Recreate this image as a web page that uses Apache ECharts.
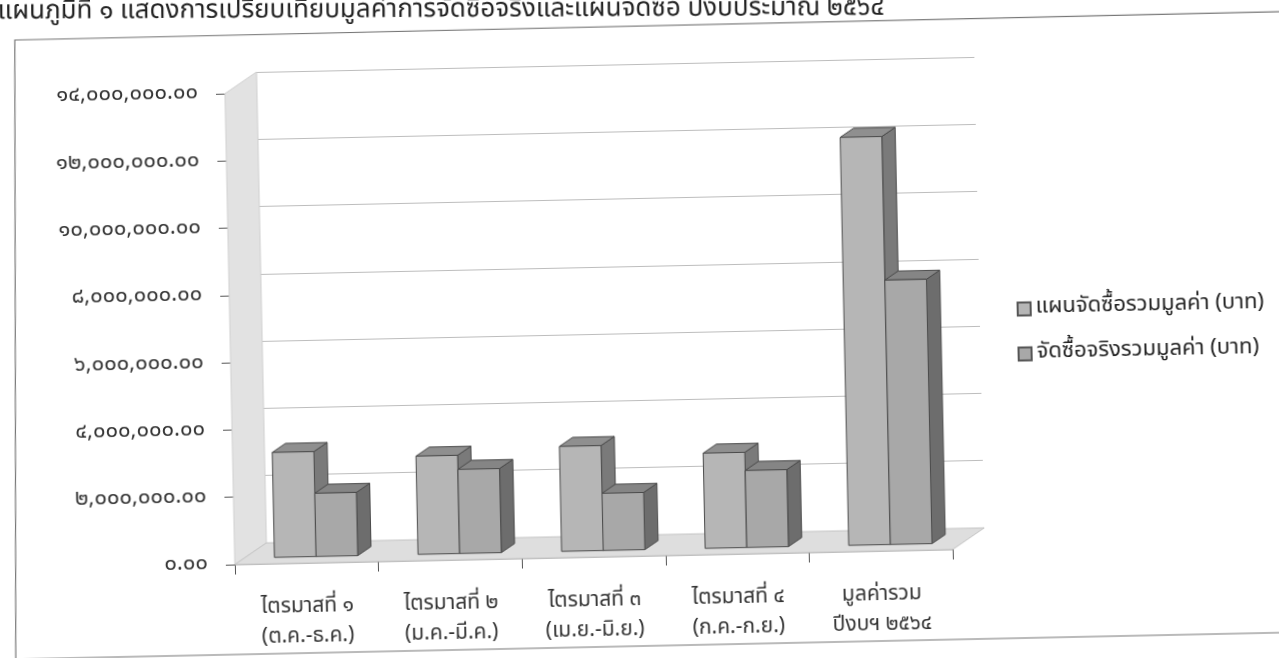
<!DOCTYPE html>
<html>
	<head>
		<meta charset="utf-8">
		<title>แผนภูมิที่ ๑</title>
		<script src="https://cdn.jsdelivr.net/npm/echarts@6/dist/echarts.min.js"></script>
		<style>
			html, body { margin: 0; padding: 0; background: #fff; overflow: hidden; }
			#main {
				position: absolute; left: -40px; top: -40px;
				width: 1359px; height: 738px;
				transform-origin: 680px 369px;
				transform: rotate(-1.2deg);
			}
		</style>
	</head>
	<body>
		<div id="main"></div>
		<script>
			// ข้อมูล
			var categories = [
				'ไตรมาสที่ ๑\n(ต.ค.-ธ.ค.)',
				'ไตรมาสที่ ๒\n(ม.ค.-มี.ค.)',
				'ไตรมาสที่ ๓\n(เม.ย.-มิ.ย.)',
				'ไตรมาสที่ ๔\n(ก.ค.-ก.ย.)',
				'มูลค่ารวม\nปีงบฯ ๒๕๖๔'
			];
			var seriesNames = ['แผนจัดซื้อรวมมูลค่า (บาท)', 'จัดซื้อจริงรวมมูลค่า (บาท)'];
			var planValues = [3120000, 2920000, 3120000, 2830000, 12130000];
			var actualValues = [1880000, 2500000, 1700000, 2290000, 7860000];
			var yMin = 0, yMax = 14000000, yStep = 2000000;
			var titleText = 'แผนภูมิที่ ๑ แสดงการเปรียบเทียบมูลค่าการจัดซื้อจริงและแผนจัดซื้อ ปีงบประมาณ ๒๕๖๔';

			var FONT = "'Noto Sans Thai', Tahoma, 'Noto Sans', sans-serif";
			var DX = 32, DY = -21;        // ความลึก 3 มิติ
			var F0 = 0.3, F1 = 0.72;      // ตำแหน่งแท่งตามความลึก
			var thaiDigits = '๐๑๒๓๔๕๖๗๘๙';

			function toThai(s) {
				return String(s).replace(/\d/g, function (d) { return thaiDigits[d]; });
			}

			// ผนังซ้ายและพื้น
			function renderFrame(params, api) {
				var c = params.coordSys;
				var x0 = c.x, x1 = c.x + c.width, yb = c.y + c.height, yt = c.y;
				return {
					type: 'group',
					children: [{
						type: 'polygon',
						shape: { points: [[x0, yb], [x0 + DX, yb + DY], [x0 + DX, yt + DY], [x0, yt]] },
						style: { fill: '#e2e2e2', stroke: '#d0d0d0', lineWidth: 1 }
					}, {
						type: 'polygon',
						shape: { points: [[x0, yb], [x1, yb], [x1 + DX, yb + DY], [x0 + DX, yb + DY]] },
						style: { fill: '#dedede', stroke: '#c4c4c4', lineWidth: 1 }
					}]
				};
			}

			function makeBar(name, values, side, front, top, right) {
				return {
					name: name,
					type: 'custom',
					xAxisIndex: 0,
					yAxisIndex: 0,
					z: 3,
					itemStyle: { color: front, borderColor: '#555', borderWidth: 1 },
					data: values.map(function (v, i) { return [i, v]; }),
					renderItem: function (params, api) {
						var idx = api.value(0);
						var p0 = api.coord([idx, 0]);
						var p1 = api.coord([idx, api.value(1)]);
						var w = api.size([1, 0])[0] * 0.29;
						var xl = side < 0 ? p0[0] - w : p0[0];
						var xr = xl + w;
						var yb = p0[1], yt = p1[1];
						var ax = F0 * DX, ay = F0 * DY, bx = F1 * DX, by = F1 * DY;
						var st = { stroke: '#4a4a4a', lineWidth: 1, lineJoin: 'round' };
						return {
							type: 'group',
							children: [{
								type: 'polygon',
								shape: { points: [[xr + ax, yb + ay], [xr + bx, yb + by], [xr + bx, yt + by], [xr + ax, yt + ay]] },
								style: Object.assign({ fill: right }, st)
							}, {
								type: 'polygon',
								shape: { points: [[xl + ax, yt + ay], [xr + ax, yt + ay], [xr + bx, yt + by], [xl + bx, yt + by]] },
								style: Object.assign({ fill: top }, st)
							}, {
								type: 'rect',
								shape: { x: xl + ax, y: yt + ay, width: w, height: yb - yt },
								style: Object.assign({ fill: front }, st)
							}]
						};
					}
				};
			}

			var gridLeft = 270, gridTop = 125, gridW = 718, gridH = 471;

			var mychart = echarts.init(document.getElementById('main'));
			var option = {
				backgroundColor: '#fff',
				animation: false,
				textStyle: { fontFamily: FONT },
				graphic: [{
					type: 'text',
					left: 44,
					top: 27,
					rotation: -0.95 * Math.PI / 180,
					style: { text: titleText, fontSize: 26, fill: '#222', fontFamily: FONT }
				}, {
					type: 'polyline',
					shape: { points: [[1400, 65], [61, 67], [49, 686], [1400, 686]] },
					style: { fill: 'none', stroke: '#777', lineWidth: 1.2 },
					silent: true
				}],
				legend: {
					orient: 'vertical',
					left: 1052,
					top: 341,
					itemWidth: 13,
					itemHeight: 13,
					itemGap: 23,
					icon: 'rect',
					data: seriesNames,
					textStyle: { fontSize: 22, color: '#222', fontFamily: FONT }
				},
				grid: [
					{ left: gridLeft, top: gridTop, width: gridW, height: gridH },
					{ left: gridLeft + DX, top: gridTop + DY, width: gridW, height: gridH }
				],
				xAxis: [{
					type: 'category',
					gridIndex: 0,
					data: categories,
					axisLine: { lineStyle: { color: '#bbb' } },
					axisTick: { show: true, length: 10, lineStyle: { color: '#555' } },
					axisLabel: { fontSize: 21, lineHeight: 30, color: '#333', margin: 30, fontFamily: FONT }
				}, {
					type: 'category',
					gridIndex: 1,
					data: categories,
					show: false
				}],
				yAxis: [{
					type: 'value',
					gridIndex: 0,
					min: yMin, max: yMax, interval: yStep,
					splitLine: { show: false },
					axisLine: { show: true, lineStyle: { color: '#d4d4d4' } },
					axisTick: { show: true, length: 9, lineStyle: { color: '#555' } },
					axisLabel: {
						fontSize: 22, color: '#333', margin: 27, padding: [16, 0, 0, 0], fontFamily: FONT,
						formatter: function (v) {
							return toThai(v.toLocaleString('en-US', { minimumFractionDigits: 2, maximumFractionDigits: 2 }));
						}
					}
				}, {
					type: 'value',
					gridIndex: 1,
					min: yMin, max: yMax, interval: yStep,
					axisLine: { show: false },
					axisTick: { show: false },
					axisLabel: { show: false },
					splitLine: { show: true, lineStyle: { color: '#bdbdbd', width: 1 } }
				}],
				series: [{
					type: 'custom',
					name: 'frame',
					xAxisIndex: 0,
					yAxisIndex: 0,
					z: 1,
					silent: true,
					data: [[0, 0]],
					renderItem: renderFrame
				},
				makeBar(seriesNames[0], planValues, -1, '#b6b6b6', '#8f8f8f', '#7a7a7a'),
				makeBar(seriesNames[1], actualValues, 1, '#a8a8a8', '#858585', '#6d6d6d')]
			};
			mychart.setOption(option);
		</script>
	</body>
</html>
